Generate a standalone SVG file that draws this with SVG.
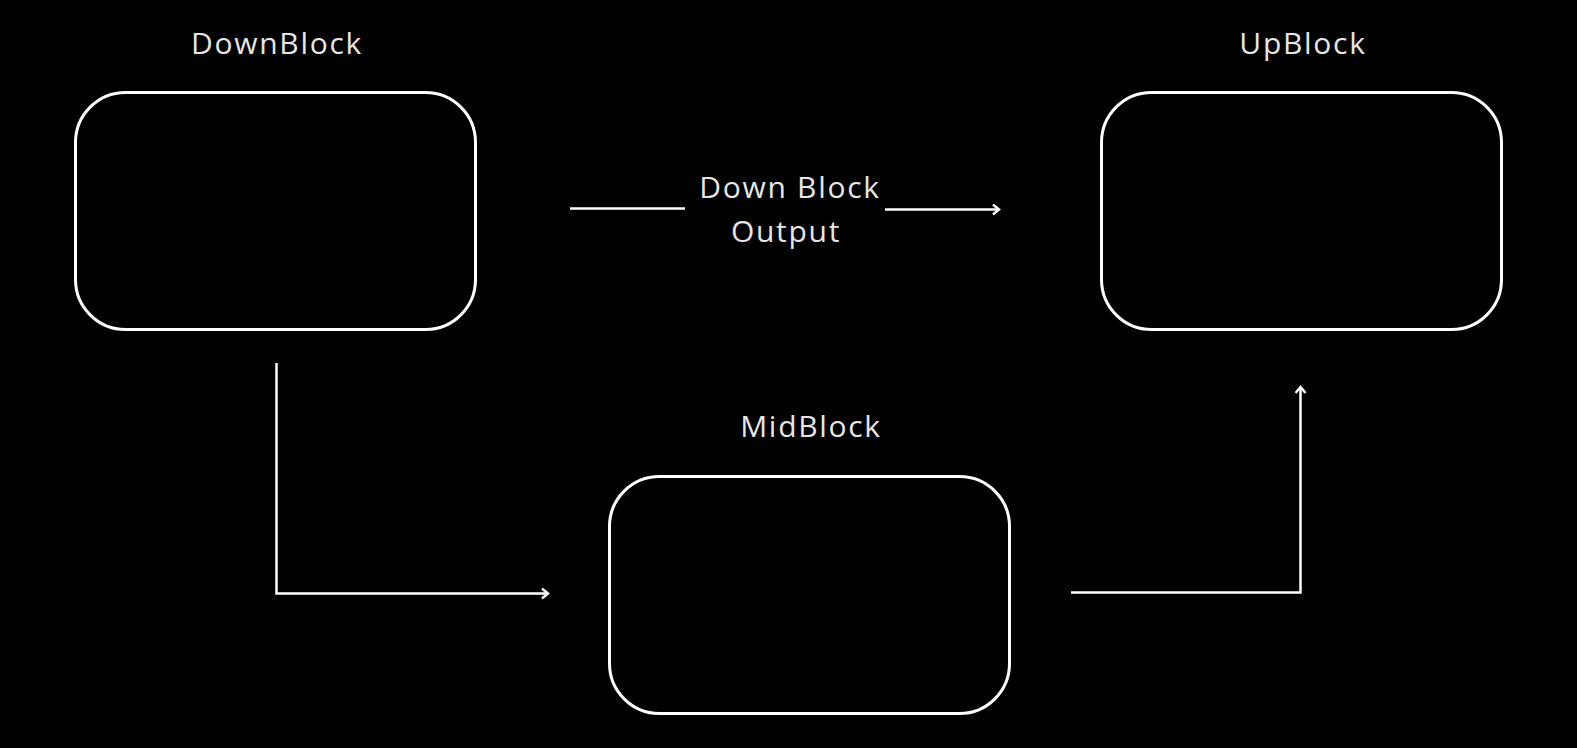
<svg xmlns="http://www.w3.org/2000/svg" width="1577" height="748" viewBox="0 0 1577 748">
<style>
.box{fill:#000;stroke:#fff;stroke-width:3}
.lbl{fill:#e6e6e6;font-family:"Open Sans","Liberation Sans",sans-serif;font-size:30px;text-anchor:middle;letter-spacing:1.7px}
.con{fill:none;stroke:#fff;stroke-width:2.5}
</style>
<defs>
<marker id="ah" markerWidth="12" markerHeight="12" refX="8" refY="6" orient="auto" markerUnits="userSpaceOnUse">
<path d="M2,1 L8,6 L2,11" fill="none" stroke="#fff" stroke-width="2.5"/>
</marker>
</defs>
<rect width="1577" height="748" fill="#000"/>
<g id="downblock">
<rect class="box" x="75.5" y="92.5" width="400" height="237" rx="50"/>
<text class="lbl" x="277" y="54">DownBlock</text>
</g>
<g id="upblock">
<rect class="box" x="1101.5" y="92.5" width="400" height="237" rx="50"/>
<text class="lbl" x="1303" y="54">UpBlock</text>
</g>
<g id="midblock">
<rect class="box" x="609.5" y="476.5" width="400" height="237" rx="50"/>
<text class="lbl" x="811" y="437">MidBlock</text>
</g>
<g id="connectors">
<path class="con" d="M570,208.5 H685"/>
<path class="con" d="M885,209.5 H999" marker-end="url(#ah)"/>
<path class="con" d="M276.5,363 V593.5 H548" marker-end="url(#ah)"/>
<path class="con" d="M1071,592.5 H1300.5 V387" marker-end="url(#ah)"/>
<text class="lbl" x="790" y="198">Down Block</text>
<text class="lbl" x="786" y="242">Output</text>
</g>
</svg>
